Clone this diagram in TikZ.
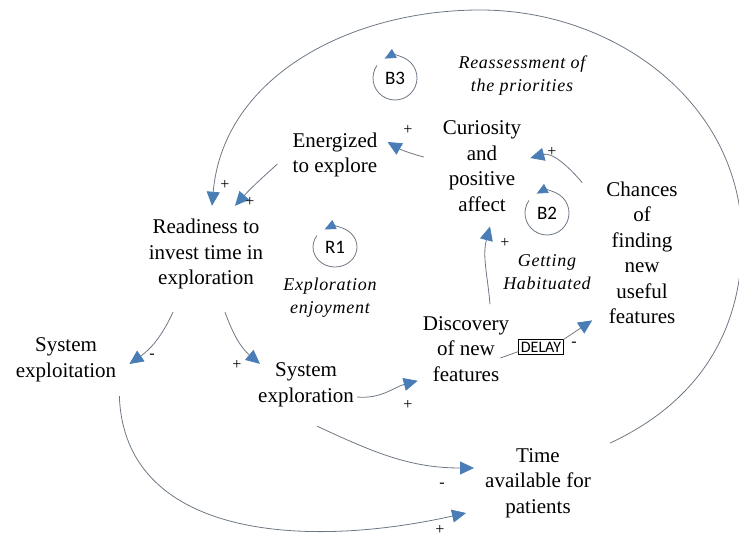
\documentclass[tikz,border=0pt]{standalone}
\usepackage{fontspec}
\setmainfont{Liberation Serif}
\newfontfamily\loopfont{Carlito}
\usepackage{xcolor}
\usetikzlibrary{arrows.meta}

\definecolor{tipblue}{HTML}{4A7DB5}
\definecolor{linegray}{HTML}{6E7884}

\begin{document}
\begin{tikzpicture}[x=1pt, y=-1pt,
        var/.style={align=center, inner sep=1pt, font=\fontsize{21}{25.5}\selectfont},
        note/.style={align=center, inner sep=1pt, font=\fontsize{18}{23}\selectfont\itshape\addfontfeatures{LetterSpace=4}},
        sign/.style={inner sep=0pt, font=\fontsize{16}{16}\selectfont},
        link/.style={draw=linegray, line width=0.8pt, -{Triangle[length=14pt,width=13pt,color=tipblue,fill=tipblue]}},
        loopname/.style={inner sep=0pt, font=\loopfont\fontsize{19}{19}\selectfont},
        loopline/.style={draw=linegray, line width=0.8pt, -{Triangle[length=11pt,width=10pt,color=tipblue,fill=tipblue]}},
        delaybox/.style={draw=black, line width=0.8pt, inner sep=2pt, font=\loopfont\fontsize{16}{16}\selectfont}
    ]
    \useasboundingbox (0,0) rectangle (739,538);

    % Variables
    \node[var] (readiness) at (206,254) {Readiness to\\invest time in\\exploration};
    \node[var] (energ) at (335,155) {Energized\\to explore};
    \node[var] (curio) at (482,166) {Curiosity\\and\\positive\\affect};
    \node[var] (chances) at (642,253) {Chances\\of\\finding\\new\\useful\\features};
    \node[var] (exploit) at (66,360) {System\\exploitation};
    \node[var] (expl) at (306,385) {System\\exploration};
    \node[var] (disc) at (466,349) {Discovery\\of new\\features};
    \node[var] (time) at (538,483) {Time\\available for\\patients};

    % Loop markers
    \node[loopname] (b3) at (395,78) {B3};
    \node[loopname] (r1) at (335,247) {R1};
    \node[loopname] (b2) at (547,213) {B2};
    \draw[loopline] ([shift={(215:22)}]b3.center) arc[start angle=215, end angle=-118, radius=22];
    \draw[loopline] ([shift={(215:22 and 20)}]r1.center) arc[start angle=215, end angle=-118, x radius=22, y radius=20];
    \draw[loopline] ([shift={(215:22)}]b2.center) arc[start angle=215, end angle=-118, radius=22];

    % Loop names
    \node[note] (reassess) at (522,76) {Reassessment of\\the priorities};
    \node[note] (enjoy) at (330,298) {Exploration\\enjoyment};
    \node[note] (habit) at (547,272) {Getting\\Habituated};

    % Links
    \draw[link] ([shift={(18,-4)}]time.north east) to[out=25,in=-90] (742,240)
        to[out=90,in=0] (480,10) to[out=180,in=85] ([shift={(6,-12)}]readiness.north);
    \draw[link] ([shift={(-14,9)}]energ.west) to[out=-138,in=48] ([shift={(29,-12)}]readiness.north);
    \draw[link] ([shift={(-18,-9)}]curio.west) to[out=165,in=-30] ([shift={(9,-13)}]energ.east);
    \draw[link] ([shift={(-23,2)}]chances.north west) to[out=130,in=15] ([shift={(8,-8)}]curio.east);
    \draw[link] ([shift={(24,-11)}]disc.north) to[out=95,in=-105] ([shift={(8,14)}]curio.south);
    \draw[link] ([shift={(-33,22)}]readiness.south) to[out=-115,in=35] ([shift={(12,4)}]exploit.east);
    \draw[link] ([shift={(19,22)}]readiness.south) to[out=-70,in=140] ([shift={(3,2)}]expl.north west);
    \draw[link] ([shift={(2,12)}]expl.east) to[out=-5,in=-165] ([shift={(-4,-2)}]disc.south west);
    \draw[link] ([shift={(11,18)}]expl.south) to[out=-25,in=180] ([shift={(-10,-15)}]time.west);
    \draw[link] ([shift={(2,13)}]exploit.south east) .. controls +(5,140) and +(-165,37) .. ([shift={(-18,30)}]time.west);

    % Delay link
    \node[delaybox] (delay) at (541,347) {DELAY};
    \draw[draw=linegray, line width=0.8pt] ([shift={(-10,9)}]disc.east) -- ([shift={(0,-3)}]delay.south west);
    \draw[link] (delay.north east) -- ([shift={(-13,-5)}]chances.south west);

    % Polarities
    \node[sign] (s1) at (225,185) {+};
    \node[sign] (s2) at (250,202) {+};
    \node[sign] (s3) at (408,130) {+};
    \node[sign] (s4) at (552,152) {+};
    \node[sign] (s5) at (505,243) {+};
    \node[sign] (s6) at (152,356) {-};
    \node[sign] (s7) at (237,365) {+};
    \node[sign] (s8) at (408,405) {+};
    \node[sign] (s9) at (574,344) {-};
    \node[sign] (s10) at (442,485) {-};
    \node[sign] (s11) at (440,530) {+};

\end{tikzpicture}
\end{document}
